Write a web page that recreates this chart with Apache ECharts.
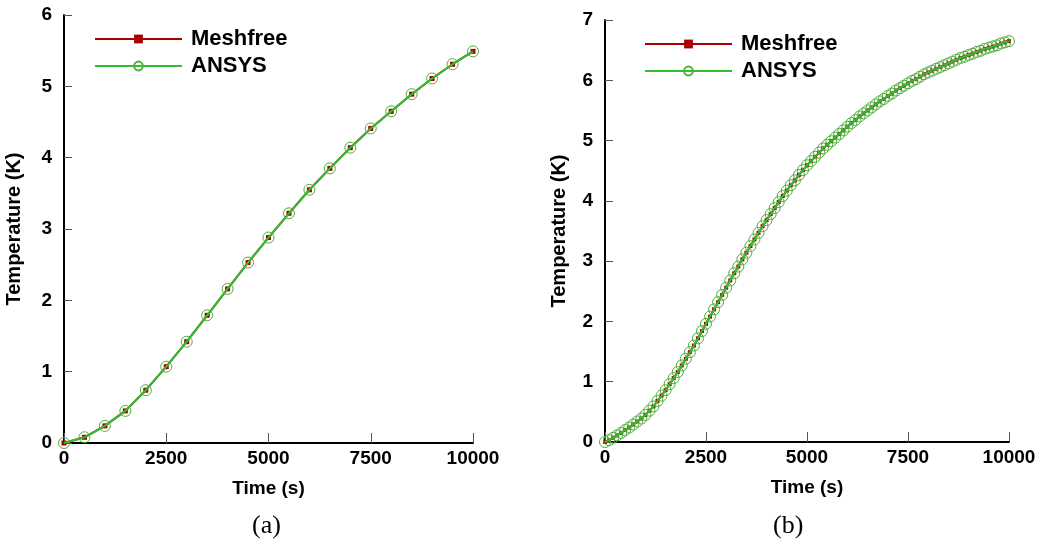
<!DOCTYPE html>
<html>
<head>
<meta charset="utf-8">
<script src="https://cdn.jsdelivr.net/npm/echarts@6/dist/echarts.min.js"></script>
<style>
html,body{margin:0;padding:0;background:#fff;}
#chart{width:1042px;height:554px;}
</style>
</head>
<body>
<div id="chart"></div>
<script>
// ---- Data ----
var timeA = [0,500,1000,1500,2000,2500,3000,3500,4000,4500,5000,5500,6000,6500,7000,7500,8000,8500,9000,9500,10000];
var meshfreeA = [0,0.08,0.24,0.45,0.74,1.07,1.42,1.79,2.16,2.53,2.88,3.22,3.55,3.85,4.14,4.41,4.65,4.89,5.11,5.31,5.49];
var ansysA    = [0,0.08,0.24,0.45,0.74,1.07,1.42,1.79,2.16,2.53,2.88,3.22,3.55,3.85,4.14,4.41,4.65,4.89,5.11,5.31,5.49];

var timeB = [];
for (var t = 0; t <= 10000; t += 100) timeB.push(t);
var meshfreeB = [
  0,0.03,0.07,0.11,0.15,0.20,0.24,0.29,0.34,0.39,
  0.45,0.52,0.59,0.68,0.77,0.86,0.96,1.06,1.16,1.27,
  1.38,1.49,1.60,1.72,1.84,1.96,2.08,2.20,2.32,2.44,
  2.56,2.68,2.80,2.91,3.03,3.14,3.25,3.36,3.47,3.58,
  3.68,3.78,3.88,3.98,4.08,4.17,4.26,4.34,4.43,4.51,
  4.59,4.66,4.73,4.80,4.87,4.93,4.99,5.05,5.11,5.17,
  5.23,5.29,5.34,5.40,5.45,5.50,5.55,5.60,5.65,5.69,
  5.74,5.78,5.83,5.87,5.91,5.95,5.99,6.02,6.06,6.10,
  6.13,6.16,6.19,6.22,6.25,6.28,6.31,6.34,6.37,6.39,
  6.42,6.44,6.47,6.49,6.52,6.54,6.56,6.58,6.61,6.63,
  6.65
];
var ansysB = meshfreeB.slice();

var seriesNames = ['Meshfree','ANSYS'];
var xName = 'Time (s)';
var yName = 'Temperature (K)';
var captions = ['(a)','(b)'];

function pairs(xs, ys){ return xs.map(function(x,i){ return [x, ys[i]]; }); }

var RED = '#a80000', GREEN = '#2fbf2f';
var FONT = '"Liberation Sans", Arial, sans-serif';

function xAxisCfg(idx){
  return {
    gridIndex: idx, type:'value', min:0, max:10000, interval:2500,
    name: xName, nameLocation:'middle', nameGap:36,
    nameTextStyle:{fontFamily:FONT, fontWeight:'bold', fontSize:19, color:'#000'},
    axisLine:{show:true, onZero:false, lineStyle:{color:'#000', width:2}},
    axisTick:{show:true, inside:true, length:10, lineStyle:{color:'#555', width:1}},
    axisLabel:{fontFamily:FONT, fontWeight:'bold', fontSize:19, color:'#000', margin:6,
      formatter:function(v){ return String(v); }},
    splitLine:{show:false}
  };
}
function yAxisCfg(idx, max, gap){
  return {
    gridIndex: idx, type:'value', min:0, max:max, interval:1,
    name: yName, nameLocation:'middle', nameGap:gap,
    nameTextStyle:{fontFamily:FONT, fontWeight:'bold', fontSize:20, color:'#000'},
    axisLine:{show:true, onZero:false, lineStyle:{color:'#000', width:2}},
    axisTick:{show:true, inside:true, length:8, lineStyle:{color:'#555', width:1}},
    axisLabel:{fontFamily:FONT, fontWeight:'bold', fontSize:19, color:'#000', margin:12},
    splitLine:{show:false}
  };
}
function meshSeries(idx, xs, ys, sz){
  return {
    name: seriesNames[0], type:'line', xAxisIndex:idx, yAxisIndex:idx,
    data: pairs(xs, ys), symbol:'rect', symbolSize:sz, showAllSymbol:true,
    lineStyle:{color:RED, width:2}, itemStyle:{color:RED},
    z:2, animation:false
  };
}
function ansysSeries(idx, xs, ys){
  return {
    name: seriesNames[1], type:'line', xAxisIndex:idx, yAxisIndex:idx,
    data: pairs(xs, ys), symbol:'circle', symbolSize:11, showAllSymbol:true,
    lineStyle:{color:GREEN, width:2},
    itemStyle:{color:'rgba(0,0,0,0)', borderColor:'#4cae3c', borderWidth:1},
    z:3, animation:false
  };
}
function legendCfg(left, top){
  return {
    left:left, top:top, orient:'vertical', itemWidth:87, itemHeight:11, itemGap:5,
    data: seriesNames,
    textStyle:{fontFamily:FONT, fontWeight:'bold', fontSize:22, color:'#000', padding:[0,0,0,4]},
    selectedMode:false
  };
}

var chart = echarts.init(document.getElementById('chart'), null, {renderer:'canvas'});
chart.setOption({
  animation:false,
  backgroundColor:'#fff',
  grid:[
    {left:64, top:15, width:409, height:428},
    {left:605, top:20, width:404, height:422}
  ],
  xAxis:[xAxisCfg(0), xAxisCfg(1)],
  yAxis:[yAxisCfg(0, 6, 40), yAxisCfg(1, 7, 36)],
  legend:[legendCfg(89, 23), legendCfg(639, 28)],
  series:[
    meshSeries(0, timeA, meshfreeA, 5),
    ansysSeries(0, timeA, ansysA),
    meshSeries(1, timeB, meshfreeB, 4),
    ansysSeries(1, timeB, ansysB)
  ],
  graphic:[
    {type:'text', left:252, top:513, style:{text:captions[0], font:'26px "Liberation Serif", serif', fill:'#000'}},
    {type:'text', left:773, top:513, style:{text:captions[1], font:'26px "Liberation Serif", serif', fill:'#000'}}
  ]
});
</script>
</body>
</html>
